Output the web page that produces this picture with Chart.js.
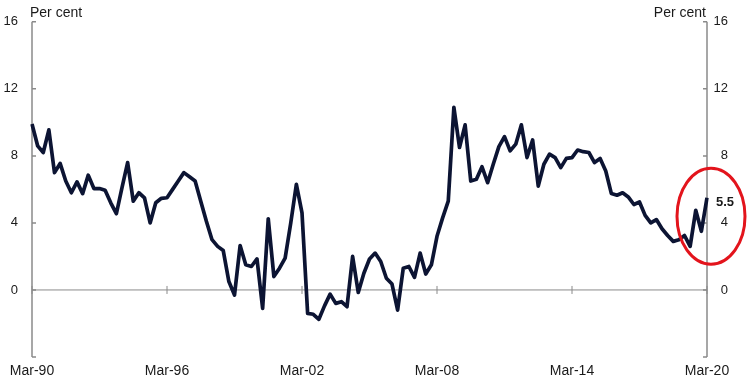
<!DOCTYPE html>
<html>
<head>
<meta charset="utf-8">
<script src="https://cdn.jsdelivr.net/npm/chart.js@4/dist/chart.umd.min.js"></script>
<style>
  html, body { margin: 0; padding: 0; background: #fff; }
  #wrap { width: 754px; height: 386px; }
</style>
</head>
<body>
<div id="wrap"><canvas id="growthChart"></canvas></div>
<script>
// quarterly categories, Mar-90 .. Mar-20
const months = ['Mar', 'Jun', 'Sep', 'Dec'];
const quarters = [];
for (let yr = 1990; yr <= 2020; yr++) {
    months.forEach(function (m) {
        if (yr === 2020 && m !== 'Mar') return;
        quarters.push(m + '-' + String(yr % 100).padStart(2, '0'));
    });
}
const tickLabels = ['Mar-90', 'Mar-96', 'Mar-02', 'Mar-08', 'Mar-14', 'Mar-20'];
const yTicks = [0, 4, 8, 12, 16];
const growth = [
    9.9, 8.6, 8.2, 9.55, 7.0, 7.55, 6.5, 5.8, 6.45, 5.75,
    6.85, 6.05, 6.05, 5.95, 5.2, 4.55, 6.1, 7.6, 5.3, 5.8,
    5.5, 4.0, 5.2, 5.47, 5.5, 6.0, 6.5, 7.0, 6.75, 6.5,
    5.3, 4.1, 3.0, 2.6, 2.35, 0.5, -0.3, 2.65, 1.5, 1.4,
    1.85, -1.1, 4.25, 0.8, 1.3, 1.9, 4.0, 6.3, 4.6, -1.4,
    -1.45, -1.75, -0.95, -0.25, -0.8, -0.7, -1.0, 2.0, -0.15, 1.0,
    1.85, 2.2, 1.7, 0.7, 0.35, -1.2, 1.3, 1.4, 0.75, 2.2,
    0.95, 1.5, 3.2, 4.3, 5.3, 10.9, 8.5, 9.85, 6.5, 6.6,
    7.35, 6.4, 7.5, 8.55, 9.15, 8.3, 8.7, 9.85, 7.9, 8.95,
    6.2, 7.5, 8.1, 7.9, 7.3, 7.85, 7.9, 8.35, 8.25, 8.2,
    7.6, 7.85, 7.1, 5.75, 5.65, 5.8, 5.55, 5.1, 5.25, 4.45,
    4.0, 4.2, 3.65, 3.25, 2.9, 3.0, 3.25, 2.6, 4.75, 3.5,
    5.5
];

const FONT = 'Liberation Sans, Arial, sans-serif';

// axes with inward ticks, zero line, ellipse and labels
const decorations = {
    id: 'decorations',
    beforeDatasetsDraw(chart) {
        const ctx = chart.ctx, a = chart.chartArea;
        const x = chart.scales.x, y = chart.scales.y;
        const zeroY = y.getPixelForValue(0);
        ctx.save();
        ctx.strokeStyle = '#8a8a8a';
        ctx.lineWidth = 1;
        ctx.beginPath();
        ctx.moveTo(a.left, zeroY);
        ctx.lineTo(a.right, zeroY);
        x.ticks.forEach(function (t, i) {
            if (!t.label) return;
            const px = x.getPixelForTick(i);
            ctx.moveTo(px, zeroY - 4);
            ctx.lineTo(px, zeroY + 4);
        });
        ctx.stroke();

        ctx.lineWidth = 1.5;
        ctx.beginPath();
        ctx.moveTo(a.left, a.top);
        ctx.lineTo(a.left, a.bottom);
        ctx.moveTo(a.right, a.top);
        ctx.lineTo(a.right, a.bottom);
        y.ticks.forEach(function (t) {
            const py = y.getPixelForValue(t.value);
            ctx.moveTo(a.left, py);
            ctx.lineTo(a.left + 4, py);
            ctx.moveTo(a.right - 4, py);
            ctx.lineTo(a.right, py);
        });
        ctx.stroke();
        ctx.restore();
    },
    afterDatasetsDraw(chart) {
        const ctx = chart.ctx, a = chart.chartArea;
        const x = chart.scales.x, y = chart.scales.y;
        const last = growth[growth.length - 1];
        ctx.save();
        ctx.fillStyle = '#1a1a1a';
        ctx.font = '14px ' + FONT;
        ctx.textBaseline = 'middle';
        ctx.textAlign = 'left';
        ctx.fillText('Per cent', a.left - 2, a.top - 9);
        ctx.textAlign = 'right';
        ctx.fillText('Per cent', a.right - 1, a.top - 9);

        ctx.font = 'bold 13px ' + FONT;
        ctx.textAlign = 'left';
        ctx.fillText(last.toFixed(1), a.right + 9, y.getPixelForValue(last) + 5);

        ctx.strokeStyle = '#e3141c';
        ctx.lineWidth = 3;
        ctx.beginPath();
        ctx.ellipse(x.getPixelForValue(growth.length - 1) + 4, y.getPixelForValue(4.4), 34, 48, 0, 0, Math.PI * 2);
        ctx.stroke();
        ctx.restore();
    }
};

new Chart(document.getElementById('growthChart'), {
    type: 'line',
    data: {
        labels: quarters,
        datasets: [{
            data: growth,
            borderColor: '#0c1433',
            borderWidth: 3.7,
            borderJoinStyle: 'round',
            pointRadius: 0,
            tension: 0,
            fill: false
        }]
    },
    options: {
        responsive: true,
        maintainAspectRatio: false,
        animation: false,
        layout: {padding: {top: 17, right: 26, left: 0, bottom: 0}},
        plugins: {legend: {display: false}, tooltip: {enabled: false}},
        scales: {
            x: {
                grid: {display: false, drawTicks: false},
                border: {display: false},
                afterFit: function (s) { s.height = 29; },
                ticks: {
                    autoSkip: false,
                    maxRotation: 0,
                    padding: 6,
                    color: '#1a1a1a',
                    font: {family: FONT, size: 14},
                    callback: function (v, i) {
                        const lab = quarters[i];
                        return tickLabels.includes(lab) ? lab : '';
                    }
                }
            },
            y: {
                position: 'left',
                min: -4,
                max: 16,
                grid: {display: false, drawTicks: false},
                border: {display: false},
                afterFit: function (s) { s.width = 32; },
                ticks: {
                    stepSize: 4,
                    padding: 14,
                    color: '#1a1a1a',
                    font: {family: FONT, size: 13},
                    callback: function (v) { return yTicks.includes(v) ? v : ''; }
                }
            },
            y2: {
                position: 'right',
                min: -4,
                max: 16,
                grid: {display: false, drawTicks: false},
                border: {display: false},
                afterFit: function (s) { s.width = 21; },
                ticks: {
                    stepSize: 4,
                    crossAlign: 'far',
                    color: '#1a1a1a',
                    font: {family: FONT, size: 13},
                    callback: function (v) { return yTicks.includes(v) ? v : ''; }
                }
            }
        }
    },
    plugins: [decorations]
});
</script>
</body>
</html>
